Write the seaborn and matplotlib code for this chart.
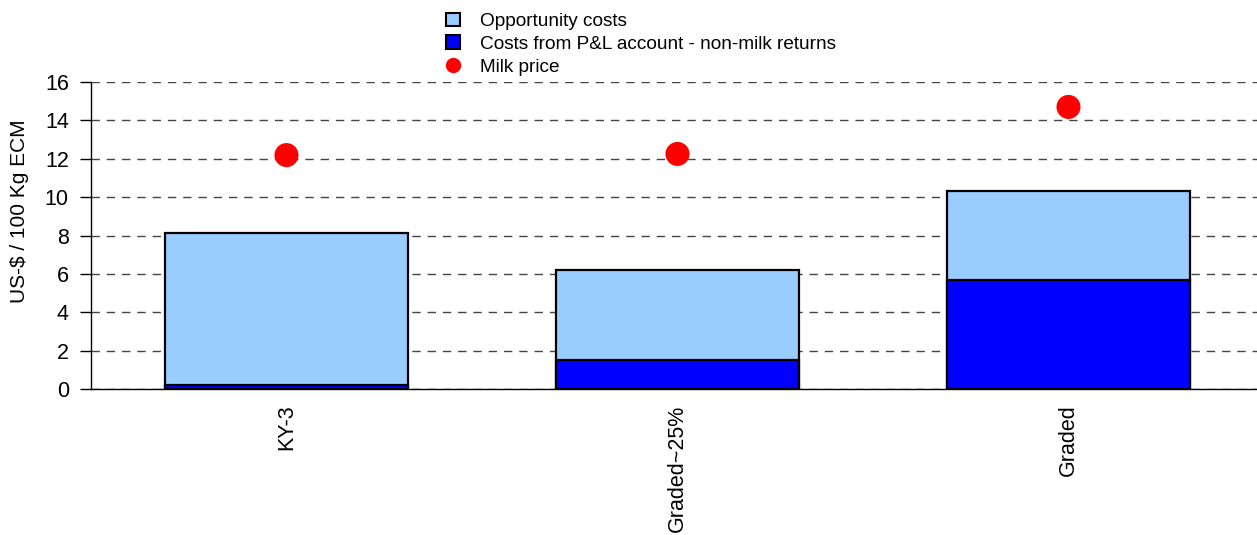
import matplotlib
matplotlib.use("Agg")
import matplotlib.pyplot as plt
import pandas as pd
import seaborn as sns
from matplotlib.lines import Line2D
from matplotlib.patches import Patch

# Data
groups = ["KY-3", "Graded~25%", "Graded"]
pnl_costs = [0.2, 1.51, 5.68]        # Costs from P&L account - non-milk returns
opp_costs = [7.93, 4.69, 4.64]       # Opportunity costs (stacked on top)
milk_price = [12.19, 12.25, 14.70]

df = pd.DataFrame({
    "group": groups,
    "pnl": pnl_costs,
    "opp": opp_costs,
    "milk": milk_price,
})
df["total"] = df["pnl"] + df["opp"]

sns.set_style("white")
plt.rcParams["font.family"] = ["Liberation Sans", "DejaVu Sans"]
plt.rcParams["text.color"] = "black"
plt.rcParams["xtick.color"] = "black"
plt.rcParams["ytick.color"] = "black"
plt.rcParams["axes.labelcolor"] = "black"

fig = plt.figure(figsize=(12.57, 5.35), dpi=100)
ax = fig.add_axes([91 / 1257, 1 - 389 / 535, 1173 / 1257, 307 / 535])

light = "#99ccff"
dark = "#0000ff"

# stacked bars: total first, then P&L part over it
sns.barplot(data=df, x="group", y="total", color=light, width=0.623,
            edgecolor="black", linewidth=1.6, saturation=1, ax=ax, zorder=2)
sns.barplot(data=df, x="group", y="pnl", color=dark, width=0.623,
            edgecolor="black", linewidth=1.6, saturation=1, ax=ax, zorder=3)
sns.scatterplot(data=df, x="group", y="milk", color="#ff0000", s=300,
                edgecolor="none", ax=ax, zorder=4, legend=False)

ax.set_xlim(-0.5, 2.5)
ax.set_ylim(0, 16)
ax.set_yticks(range(0, 17, 2))
ax.yaxis.grid(True, linestyle=(0, (6, 5)), color="#444444", linewidth=1)
ax.xaxis.grid(False)
ax.set_axisbelow(True)

for side in ["top", "right"]:
    ax.spines[side].set_visible(False)
ax.spines["left"].set_color("black")
ax.spines["bottom"].set_color("black")
ax.spines["left"].set_linewidth(1)
ax.spines["bottom"].set_linewidth(1)

# category labels centered, tick marks at the boundaries
ax.set_xticks([0, 1, 2])
ax.set_xticklabels(groups, rotation=90, fontsize=15.5, va="top")
ax.tick_params(axis="x", length=0, pad=11)
ax.set_xticks([-0.5, 0.5, 1.5, 2.5], minor=True)
ax.tick_params(axis="x", which="minor", length=7, width=1, color="black", direction="out")
ax.tick_params(axis="y", length=8, width=1, color="black", direction="out", labelsize=15.5, pad=8, left=True)

ax.set_xlabel("")
ax.set_ylabel("US-$ / 100 Kg ECM", fontsize=15)
ax.yaxis.set_label_coords(-0.053, 0.58)

handles = [
    Patch(facecolor=light, edgecolor="black", linewidth=1.5, label="Opportunity costs"),
    Patch(facecolor=dark, edgecolor="black", linewidth=1.5, label="Costs from P&L account - non-milk returns"),
    Line2D([], [], marker="o", linestyle="none", color="#ff0000", markersize=10, label="Milk price"),
]
fig.legend(handles=handles, loc="upper left", bbox_to_anchor=(436 / 1257, 1 - 3 / 535),
           frameon=False, fontsize=13.7, handlelength=0.75, handleheight=0.75,
           handletextpad=1.05, labelspacing=0.28, borderpad=0)

fig.savefig("out.png", dpi=100)
